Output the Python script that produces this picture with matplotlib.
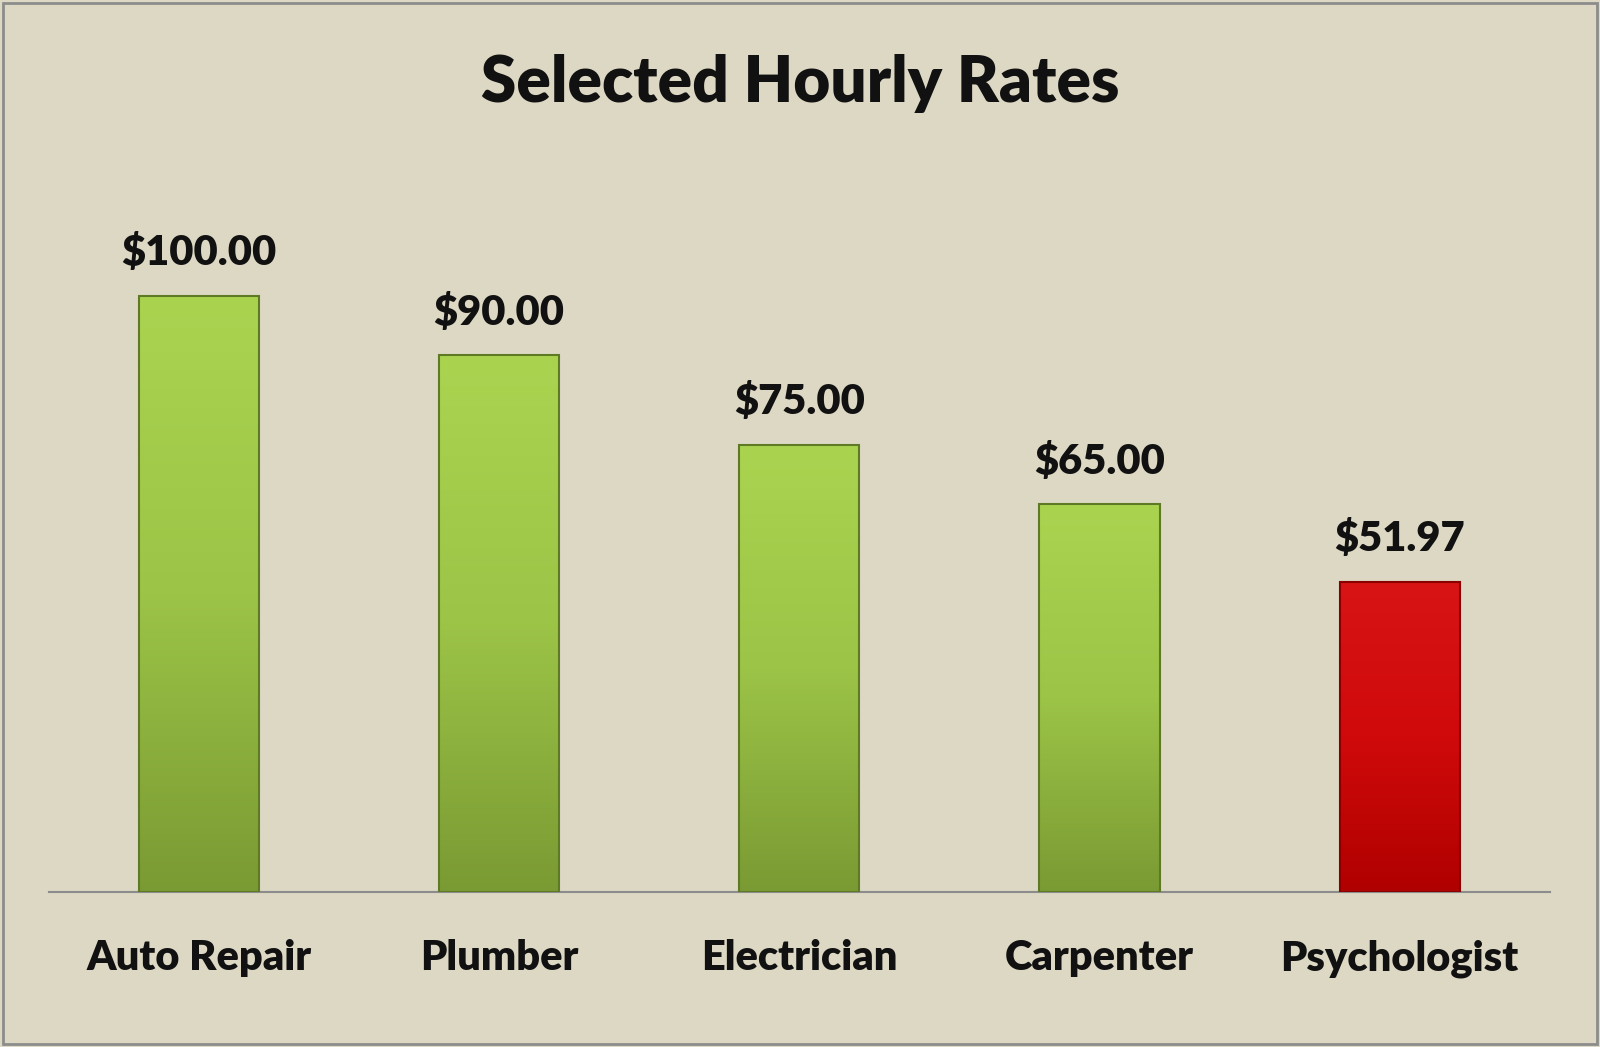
import numpy as np
import matplotlib.pyplot as plt
from matplotlib.colors import LinearSegmentedColormap
from matplotlib.patches import Rectangle

categories = ['Auto Repair', 'Plumber', 'Electrician', 'Carpenter', 'Psychologist']
rates = [100.00, 90.00, 75.00, 65.00, 51.97]
labels = ['$100.00', '$90.00', '$75.00', '$65.00', '$51.97']

plt.rcParams['font.family'] = ['Lato', 'DejaVu Sans']
bg = '#ddd8c3'

fig = plt.figure(figsize=(16, 10.47), dpi=100, facecolor=bg)
ax = fig.add_axes([0.0306, 0.148, 0.938, 0.705])
ax.set_facecolor(bg)

green = LinearSegmentedColormap.from_list('g', ['#7a9a33', '#9cc447', '#aad450'])
red = LinearSegmentedColormap.from_list('r', ['#b00000', '#d00a0a', '#d81414'])
grad = np.linspace(0, 1, 256).reshape(-1, 1)
w = 0.4
x = np.arange(len(categories))
for i, (xi, v) in enumerate(zip(x, rates)):
    cmap = red if i == 4 else green
    edge = '#8a0000' if i == 4 else '#5f7a25'
    ax.imshow(grad, cmap=cmap, aspect='auto', origin='lower',
              extent=[xi - w / 2, xi + w / 2, 0, v], zorder=2)
    ax.add_patch(Rectangle((xi - w / 2, 0), w, v, fill=False, ec=edge, lw=1.5, zorder=3))
    ax.text(xi, v + 4, labels[i], ha='center', va='bottom', fontsize=30,
            fontweight='heavy', color='#111111')

ax.set_xlim(-0.5, len(categories) - 0.5)
ax.set_ylim(0, 123.8)
ax.set_yticks([])
ax.set_xticks(x)
ax.set_xticklabels(categories, fontsize=30, fontweight='heavy', color='#111111')
ax.tick_params(axis='x', length=0, pad=34)
for s in ['top', 'right', 'left']:
    ax.spines[s].set_visible(False)
ax.spines['bottom'].set_color('#8c8c8c')
ax.spines['bottom'].set_linewidth(1.5)

fig.text(0.5, 0.92, 'Selected Hourly Rates', ha='center', va='center',
         fontsize=46, fontweight='heavy', color='#111111')
fig.add_artist(Rectangle((0.002, 0.003), 0.996, 0.994, transform=fig.transFigure,
                         fill=False, ec='#8c8c8c', lw=2))

fig.savefig('out.png', dpi=100, facecolor=bg)
